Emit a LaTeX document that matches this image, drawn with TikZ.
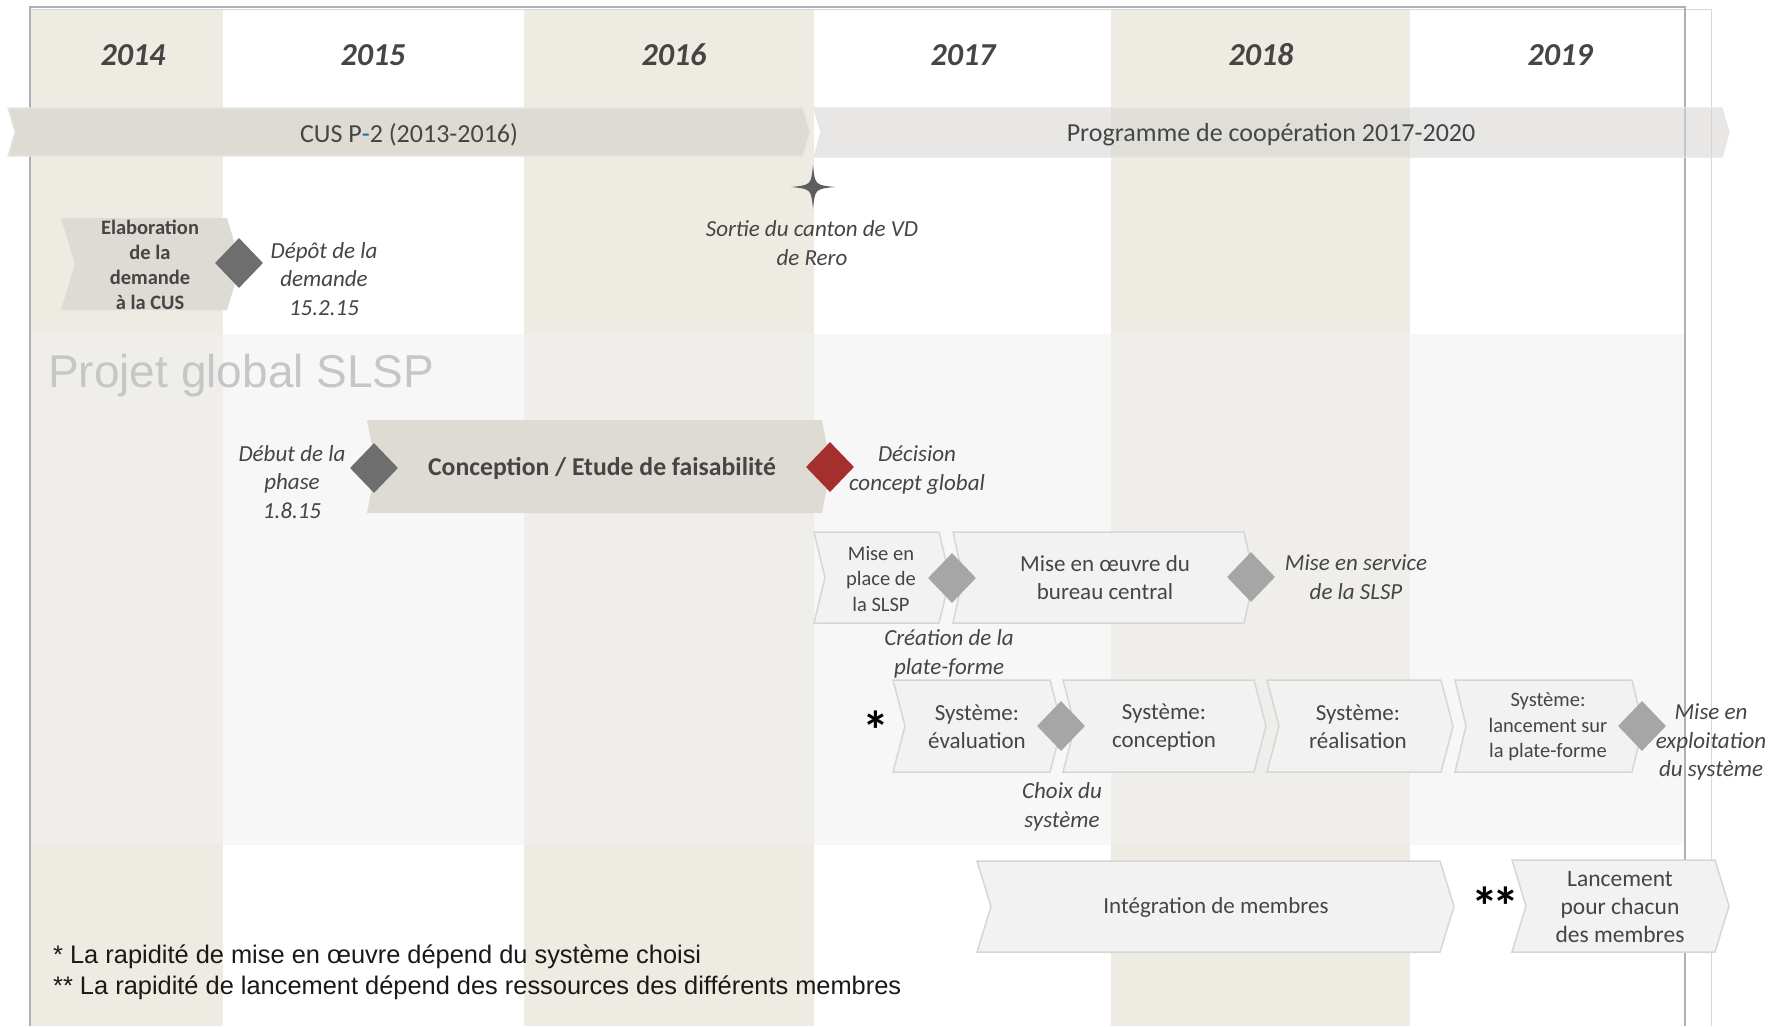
\documentclass[tikz,border=0pt]{standalone}
\usepackage{fontspec}
\setmainfont{Carlito}
\newfontfamily\arialf{Liberation Sans}
\usetikzlibrary{shapes.geometric}
\definecolor{band}{HTML}{EDEBE2}
\definecolor{chevdark}{HTML}{DDDBD3}
\definecolor{chevlight}{HTML}{F2F2F2}
\definecolor{chevline}{HTML}{D6D6D6}
\definecolor{txt}{HTML}{454545}
\definecolor{diadark}{HTML}{6E6E6E}
\definecolor{diared}{HTML}{A52F2C}
\definecolor{dialight}{HTML}{A6A6A6}
\definecolor{frameline}{HTML}{ADB0B5}
\definecolor{sectc}{HTML}{F1F1F1}
\definecolor{titlec}{HTML}{C6C6C6}
\definecolor{progc}{HTML}{D6D5D0}
\definecolor{hyph}{HTML}{0070C0}
\newcommand\chev[6][]{\path[#1] (#2,#4) -- (#3,#4) -- ({#3+#6},{(#4+#5)/2}) -- (#3,#5) -- (#2,#5) -- ({#2+#6},{(#4+#5)/2}) -- cycle;}
\begin{document}
\begin{tikzpicture}[x=1pt,y=-1pt,
  every node/.style={inner sep=0pt,text=txt},
  lbl/.style={align=center,font=\fontsize{23}{28.5}\selectfont\itshape},
  chtxt/.style={align=center,font=\fontsize{23}{28}\selectfont},
  chsmall/.style={align=center,font=\fontsize{20.5}{25.5}\selectfont},
  yr/.style={font=\fontsize{32}{32}\selectfont\bfseries\itshape,text=txt},
  dia/.style={diamond,minimum width=48,minimum height=50,inner sep=0pt},
  chevL/.style={fill=chevlight,draw=chevline,line width=1.5},
  chevD/.style={fill=chevdark},
  astx/.style={anchor=base,font=\fontsize{54}{54}\selectfont\bfseries,text=black},
  foot/.style={anchor=west,font=\arialf\fontsize{25.4}{25.4}\selectfont,text=black!90},
  frm/.style={draw=frameline,line width=2},
  frm2/.style={draw=frameline!50,line width=1}]
\useasboundingbox (0,0) rectangle (1781,1026);
\fill[white] (0,0) rectangle (1781,1026);
% year bands
\fill[band] (30,9) rectangle (223,1026);
\fill[band] (524,9) rectangle (814,1026);
\fill[band] (1111,9) rectangle (1410,1026);
% frame
\draw[frm2] (30,9) -- (1711,9) -- (1711,1026);
\draw[frm] (30,1026) -- (30,7) -- (1685,7) -- (1685,1026);
% section
\fill[sectc,fill opacity=0.55] (31,334) rectangle (1684,845);
% years
\node[yr] (y14) at (133,55) {2014};
\node[yr] (y15) at (373,55) {2015};
\node[yr] (y16) at (674,55) {2016};
\node[yr] (y17) at (963,55) {2017};
\node[yr] (y18) at (1261,55) {2018};
\node[yr] (y19) at (1560,55) {2019};
% top arrows
\chev[fill=chevdark,draw=chevline!60,line width=1.2]{8}{803}{108}{156}{7}
\chev[fill=progc,fill opacity=0.55,draw=chevline!60,line width=1.2]{814}{1722}{108}{157}{7}
\node[font=\fontsize{26}{30}\selectfont] (cus) at (409,135) {CUS P\textcolor{hyph}{-}2 (2013-2016)};
\node[font=\fontsize{26}{30}\selectfont] (prog) at (1271,135) {Programme de coopération 2017-2020};
% star
\fill[diadark!85!black] (813,165) .. controls (815,185) .. (835,187) .. controls (815,189) .. (813,209) .. controls (811,189) .. (791,187) .. controls (811,185) .. (813,165) -- cycle;
\node[lbl] (sortie) at (812,243) {Sortie du canton de VD\\de Rero};
% elaboration
\chev[chevD]{61}{227}{218}{310}{14}
\node[align=center,font=\fontsize{20.5}{25}\selectfont\bfseries] (elab) at (150,265) {Elaboration\\de la\\demande\\à la CUS};
\node[dia,fill=diadark] (d1) at (239,263) {};
\node[lbl] (depot) at (324,279) {Dépôt de la\\demande\\15.2.15};
% section title
\node[anchor=base west,font=\arialf\fontsize{46}{46}\selectfont,text=titlec] (title) at (48,387) {Projet global SLSP};
% conception
\chev[chevD]{367}{822}{420}{513}{9}
\node[font=\fontsize{25.7}{30}\selectfont\bfseries] (concep) at (602,468) {Conception / Etude de faisabilité};
\node[dia,fill=diadark] (d2) at (374,468) {};
\node[dia,fill=diared] (d3) at (830,467) {};
\node[lbl] (debut) at (292,482) {Début de la\\phase\\1.8.15};
\node[lbl] (decis) at (917,470) {Décision\\concept global};
% row 1
\chev[chevL]{814}{939}{532}{623}{11}
\node[chsmall] (place) at (881,579) {Mise en\\place de\\la SLSP};
\chev[chevL]{953}{1244}{532}{623}{10}
\node[chtxt] (oeuvre) at (1105,578) {Mise en œuvre du\\bureau central};
\node[dia,fill=dialight] (d4) at (952,578) {};
\node[dia,fill=dialight] (d5) at (1251,577) {};
\node[lbl] (service) at (1356,577) {Mise en service\\de la SLSP};
\node[lbl] (creation) at (949,654) {Création de la\\plate-forme};
% row 2
\chev[chevL]{893}{1050}{680}{772}{12}
\node[chtxt] (eval) at (977,727) {Système:\\évaluation};
\chev[chevL]{1063}{1254}{680}{772}{12}
\node[chtxt] (sconc) at (1164,727) {Système:\\conception};
\chev[chevL]{1267}{1441}{680}{772}{12}
\node[chtxt] (sreal) at (1358,727) {Système:\\réalisation};
\chev[chevL]{1455}{1632}{680}{772}{11}
\node[chsmall] (slanc) at (1548,727) {Système:\\lancement sur\\la plate-forme};
\node[dia,fill=dialight] (d6) at (1061,726) {};
\node[dia,fill=dialight] (d7) at (1642,726) {};
\node[lbl] (exploit) at (1711,742) {Mise en\\exploitation\\du système};
\node[lbl] (choix) at (1062,807) {Choix du\\système};
\node[astx] (ast1) at (876,749) {*};
% row 3
\chev[chevL]{977}{1440}{861}{952}{14}
\node[chtxt] (integ) at (1216,907) {Intégration de membres};
\chev[chevL]{1512}{1715}{860}{952}{14}
\node[align=center,font=\fontsize{23.5}{28}\selectfont] (lanc) at (1620,907) {Lancement\\pour chacun\\des membres};
\node[astx] (ast2) at (1495,925) {*\kern-6pt*};
% footnotes
\node[foot] (fn1) at (53,957) {* La rapidité de mise en œuvre dépend du système choisi};
\node[foot] (fn2) at (53,988) {** La rapidité de lancement dépend des ressources des différents membres};
\end{tikzpicture}
\end{document}
